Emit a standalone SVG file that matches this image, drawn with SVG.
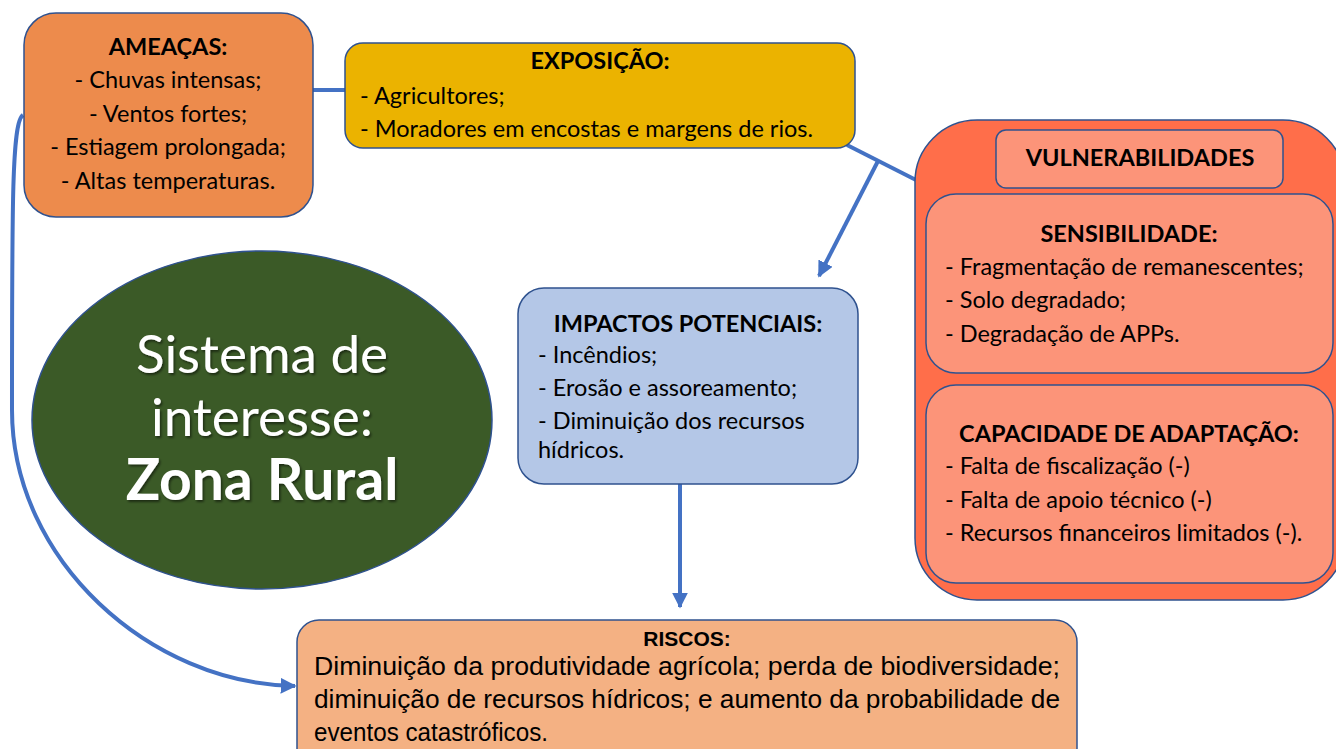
<svg xmlns="http://www.w3.org/2000/svg" width="1336" height="749" viewBox="0 0 1336 749">
<defs>
<marker id="arr" viewBox="0 0 10 10" refX="9" refY="5" markerWidth="4" markerHeight="4" orient="auto" markerUnits="strokeWidth">
<path d="M0,0 L10,5 L0,10 z" fill="#4472C4"/>
</marker>
<filter id="sh" x="-10%" y="-10%" width="120%" height="130%">
<feDropShadow dx="1.5" dy="2" stdDeviation="1" flood-color="#000" flood-opacity="0.5"/>
</filter>
</defs>
<style>
.box{stroke:#2F528F;stroke-width:1.5}
.t{font-family:Lato,"Open Sans",sans-serif;font-size:23.5px;fill:#000}
.b{font-weight:bold}
.c{text-anchor:middle}
.conn{fill:none;stroke:#4472C4;stroke-width:4}
.r{font-family:"Liberation Sans",Arial,sans-serif;font-size:25px;fill:#000}
</style>
<rect width="1336" height="749" fill="#fff"/>
<g id="connectors">
<line class="conn" x1="313" y1="90" x2="345" y2="90"/>
<line class="conn" x1="847" y1="145" x2="916" y2="180"/>
<line class="conn" x1="878" y1="161" x2="819" y2="276" marker-end="url(#arr)"/>
<line class="conn" x1="680" y1="484" x2="680" y2="607" marker-end="url(#arr)"/>
<path class="conn" d="M23,115 C12,122 12,200 12,410 C12,560 150,684 295,686" marker-end="url(#arr)"/>
</g>
<g id="ameacas">
<rect class="box" x="24" y="13" width="289" height="204" rx="32" fill="#ED8B4C"/>
<text class="t c b" x="168" y="55">AMEAÇAS:</text>
<text class="t c" x="168" y="88">- Chuvas intensas;</text>
<text class="t c" x="168" y="122">- Ventos fortes;</text>
<text class="t c" x="168" y="155">- Estiagem prolongada;</text>
<text class="t c" x="168" y="189">- Altas temperaturas.</text>
</g>
<g id="exposicao">
<rect class="box" x="345" y="43" width="510" height="105" rx="18" fill="#EBB300"/>
<text class="t c b" x="600" y="69">EXPOSIÇÃO:</text>
<text class="t" x="360" y="104">- Agricultores;</text>
<text class="t" x="360" y="137">- Moradores em encostas e margens de rios.</text>
</g>
<g id="sistema">
<ellipse class="box" cx="262" cy="420" rx="230" ry="169" fill="#3B5A27"/>
<g filter="url(#sh)" font-family="Lato,'Open Sans',sans-serif" fill="#fff" text-anchor="middle">
<text x="262" y="373" font-size="53">Sistema de</text>
<text x="262" y="436" font-size="53">interesse:</text>
<text x="262" y="500" font-size="57" font-weight="bold">Zona Rural</text>
</g>
</g>
<g id="vulnerabilidades">
<rect class="box" x="915" y="120" width="430" height="480" rx="62" fill="#FF6E4A"/>
<rect class="box" x="996" y="130" width="287" height="58" rx="10" fill="#FC9479"/>
<text class="t c b" x="1140" y="166">VULNERABILIDADES</text>
</g>
<g id="sensibilidade">
<rect class="box" x="926" y="194" width="407" height="179" rx="30" fill="#FC9479"/>
<text class="t c b" x="1129" y="242">SENSIBILIDADE:</text>
<text class="t" x="945" y="275">- Fragmentação de remanescentes;</text>
<text class="t" x="945" y="308">- Solo degradado;</text>
<text class="t" x="945" y="342">- Degradação de APPs.</text>
</g>
<g id="capacidade">
<rect class="box" x="926" y="385" width="407" height="198" rx="30" fill="#FC9479"/>
<text class="t c b" x="1129" y="442">CAPACIDADE DE ADAPTAÇÃO:</text>
<text class="t" x="945" y="474">- Falta de fiscalização (-)</text>
<text class="t" x="945" y="508">- Falta de apoio técnico (-)</text>
<text class="t" x="945" y="541">- Recursos financeiros limitados (-).</text>
</g>
<g id="impactos">
<rect class="box" x="518" y="288" width="340" height="196" rx="26" fill="#B4C7E7"/>
<text class="t c b" x="688" y="332">IMPACTOS POTENCIAIS:</text>
<text class="t" x="538" y="363">- Incêndios;</text>
<text class="t" x="538" y="396">- Erosão e assoreamento;</text>
<text class="t" x="538" y="429">- Diminuição dos recursos</text>
<text class="t" x="538" y="458">hídricos.</text>
</g>
<g id="riscos">
<rect class="box" x="297" y="620" width="780" height="150" rx="22" fill="#F4B183"/>
<text class="c b" x="687" y="646" font-family="'Liberation Sans Narrow','Liberation Sans',sans-serif" font-size="21">RISCOS:</text>
<text class="r" x="314" y="675" textLength="746" lengthAdjust="spacingAndGlyphs">Diminuição da produtividade agrícola; perda de biodiversidade;</text>
<text class="r" x="314" y="708" textLength="746" lengthAdjust="spacingAndGlyphs">diminuição de recursos hídricos; e aumento da probabilidade de</text>
<text class="r" x="314" y="741" textLength="234" lengthAdjust="spacingAndGlyphs">eventos catastróficos.</text>
</g>
</svg>
